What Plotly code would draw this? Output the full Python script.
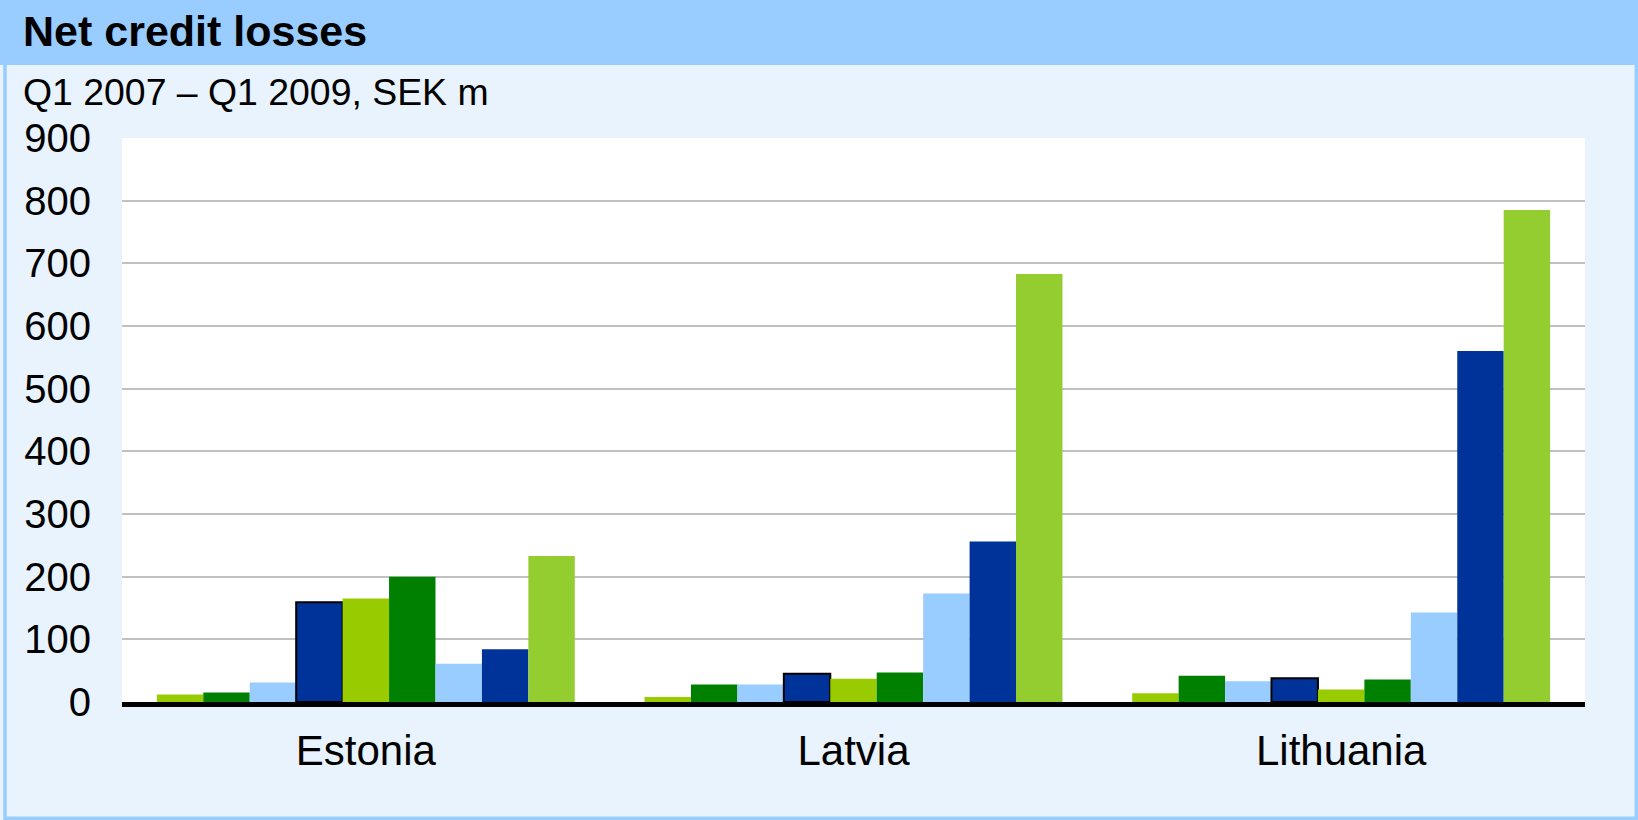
import plotly.graph_objects as go

# Countries on the category axis
countries = ["Estonia", "Latvia", "Lithuania"]

# Quarters, one bar per quarter within each country
quarters = ["Q1 2007", "Q2 2007", "Q3 2007", "Q4 2007",
            "Q1 2008", "Q2 2008", "Q3 2008", "Q4 2008", "Q1 2009"]

# Net credit losses, SEK m, Q1 2007 .. Q1 2009
estonia = [12, 15, 31, 159, 165, 200, 61, 84, 233]
latvia = [8, 28, 28, 45, 37, 47, 173, 256, 683]
lithuania = [14, 42, 33, 38, 20, 36, 143, 560, 785]

# Y axis ticks
y_ticks = [0, 100, 200, 300, 400, 500, 600, 700, 800, 900]
grid_ticks = [100, 200, 300, 400, 500, 600, 700, 800]

bar_colors = ["#99CC00", "#008000", "#99CCFF", "#003399",
              "#99CC00", "#008000", "#99CCFF", "#003399", "#93CD2F"]
outlined = "Q4 2007"

FONT = "Liberation Sans, Arial, sans-serif"
BG = "#E9F3FD"
BAND = "#99CCFF"

# Plot area in pixels (width 1638, height 820)
W, H = 1638, 820
L, R, T, B = 122, 53, 138, 118
pw, ph = W - L - R, H - T - B


def px_x(x):
    return (x - L) / pw


def px_y(y):
    return (H - B - y) / ph


fig = go.Figure()
for i, q in enumerate(quarters):
    vals = [estonia[i], latvia[i], lithuania[i]]
    fig.add_trace(go.Bar(
        x=countries, y=vals, name=q,
        marker=dict(
            color=bar_colors[i],
            line=dict(color="black" if q == outlined else bar_colors[i],
                      width=2 if q == outlined else 0),
        ),
    ))

# Title band across the top
fig.add_shape(type="rect", xref="paper", yref="paper", layer="below",
              x0=px_x(0), x1=px_x(W), y0=px_y(65), y1=px_y(0),
              fillcolor=BAND, line=dict(width=0))
# Outer frame
fig.add_shape(type="rect", xref="paper", yref="paper", layer="above",
              x0=px_x(5), x1=px_x(1636.3), y0=px_y(818.3), y1=px_y(1),
              line=dict(color=BAND, width=3.5), fillcolor="rgba(0,0,0,0)")

fig.add_annotation(text="<b>Net credit losses</b>", xref="paper", yref="paper",
                   x=px_x(21), y=px_y(31), xanchor="left", yanchor="middle",
                   showarrow=False, font=dict(family=FONT, size=43, color="black"))
fig.add_annotation(text="Q1 2007 – Q1 2009, SEK m", xref="paper", yref="paper",
                   x=px_x(21), y=px_y(92), xanchor="left", yanchor="middle",
                   showarrow=False, font=dict(family=FONT, size=37.4, color="black"))

fig.update_layout(
    width=W, height=H,
    margin=dict(l=L, r=R, t=T, b=B, pad=0),
    paper_bgcolor=BG, plot_bgcolor="white",
    barmode="group", bargap=0.143, bargroupgap=0,
    showlegend=False,
    font=dict(family=FONT, color="black"),
)
fig.update_xaxes(
    showline=True, linecolor="black", linewidth=5,
    ticks="", showgrid=False, zeroline=False,
    tickfont=dict(family=FONT, size=42, color="black"),
    ticklabelstandoff=8,
)
fig.update_yaxes(
    range=[0, 900], tickmode="array", tickvals=y_ticks,
    showgrid=False, zeroline=False, showline=False, ticks="",
    tickfont=dict(family=FONT, size=40, color="black"),
    ticklabelstandoff=30,
    minor=dict(tickmode="array", tickvals=grid_ticks, showgrid=True,
               gridcolor="#C0C0C0", gridwidth=2, ticks=""),
)

fig.write_html("out.html")
